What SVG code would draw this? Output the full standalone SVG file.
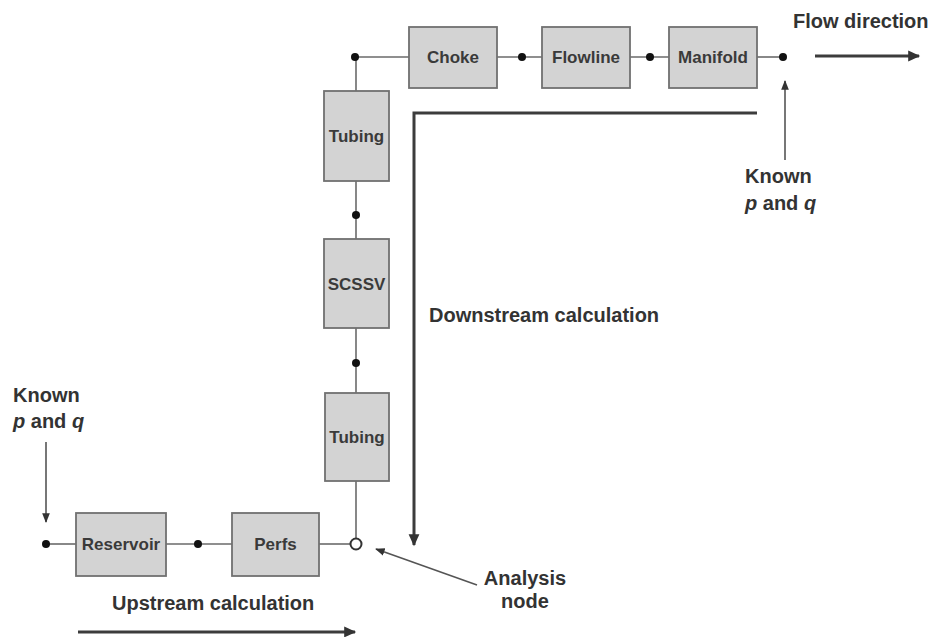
<svg xmlns="http://www.w3.org/2000/svg" width="933" height="637" viewBox="0 0 933 637">
  <defs>
    <style>
      .box { fill: #d3d3d3; stroke: #707070; stroke-width: 1.8; }
      .lbl { font-family: "Liberation Sans", Arial, sans-serif; font-weight: bold; font-size: 17px; fill: #3a3a3a; text-anchor: middle; }
      .txt { font-family: "Liberation Sans", Arial, sans-serif; font-weight: bold; font-size: 20px; fill: #333; }
      .wire { stroke: #6a6a6a; stroke-width: 1.6; fill: none; }
      .dot { fill: #111; }
      .thin { stroke: #555; stroke-width: 1.6; fill: none; }
      .thick { stroke: #3c3c3c; stroke-width: 3; fill: none; }
    </style>
    <marker id="headThin" viewBox="0 0 10 10" refX="9" refY="5" markerWidth="6" markerHeight="6" markerUnits="strokeWidth" orient="auto">
      <path d="M0,1 L10,5 L0,9 Z" fill="#333"/>
    </marker>
    <marker id="headThick" viewBox="0 0 10 10" refX="9" refY="5" markerWidth="4.5" markerHeight="4" markerUnits="strokeWidth" orient="auto">
      <path d="M0,0.5 L10,5 L0,9.5 Z" fill="#333"/>
    </marker>
  </defs>
  <rect width="933" height="637" fill="#fff"/>

  <!-- connectors -->
  <g id="connectors">
    <!-- top row -->
    <line class="wire" x1="355" y1="57" x2="409" y2="57"/>
    <line class="wire" x1="497" y1="57" x2="542" y2="57"/>
    <line class="wire" x1="630" y1="57" x2="669" y2="57"/>
    <line class="wire" x1="757" y1="57" x2="783" y2="57"/>
    <!-- vertical string -->
    <line class="wire" x1="356" y1="57" x2="356" y2="91"/>
    <line class="wire" x1="356" y1="181" x2="356" y2="239"/>
    <line class="wire" x1="356" y1="328" x2="356" y2="393"/>
    <line class="wire" x1="356" y1="481" x2="356" y2="538"/>
    <!-- bottom row -->
    <line class="wire" x1="46" y1="544" x2="76" y2="544"/>
    <line class="wire" x1="166" y1="544" x2="232" y2="544"/>
    <line class="wire" x1="319" y1="544" x2="350" y2="544"/>
    <!-- junction dots -->
    <circle class="dot" cx="355" cy="57" r="4"/>
    <circle class="dot" cx="522" cy="57" r="4"/>
    <circle class="dot" cx="650" cy="57" r="4"/>
    <circle class="dot" cx="783" cy="57" r="4"/>
    <circle class="dot" cx="356" cy="215" r="4"/>
    <circle class="dot" cx="356" cy="363" r="4"/>
    <circle class="dot" cx="46" cy="544" r="4"/>
    <circle class="dot" cx="198" cy="544" r="4"/>
    <!-- analysis node -->
    <circle cx="356" cy="544" r="5.5" fill="#fff" stroke="#333" stroke-width="2"/>

    <!-- calculation arrows -->
    <path class="thick" d="M757,113 H414 V545" marker-end="url(#headThick)"/>
    <line class="thick" x1="78" y1="632" x2="355" y2="632" marker-end="url(#headThick)"/>
    <line class="thick" x1="815" y1="56" x2="919" y2="56" stroke-width="2.6" marker-end="url(#headThick)"/>

    <!-- pointers -->
    <line class="thin" x1="46" y1="442" x2="46" y2="522" marker-end="url(#headThin)"/>
    <line class="thin" x1="785" y1="160" x2="785" y2="81" marker-end="url(#headThin)"/>
    <line class="thin" x1="477" y1="585" x2="376" y2="549" marker-end="url(#headThin)"/>
  </g>

  <!-- nodes -->
  <g id="choke"><rect class="box" x="409" y="27" width="88" height="61"/><text class="lbl" x="453" y="63">Choke</text></g>
  <g id="flowline"><rect class="box" x="542" y="27" width="88" height="61"/><text class="lbl" x="586" y="63">Flowline</text></g>
  <g id="manifold"><rect class="box" x="669" y="27" width="88" height="61"/><text class="lbl" x="713" y="63">Manifold</text></g>
  <g id="tubing-upper"><rect class="box" x="324" y="91" width="65" height="90"/><text class="lbl" x="356.5" y="142">Tubing</text></g>
  <g id="scsv"><rect class="box" x="324" y="239" width="65" height="89"/><text class="lbl" x="356.5" y="290">SCSSV</text></g>
  <g id="tubing-lower"><rect class="box" x="325" y="393" width="64" height="88"/><text class="lbl" x="357" y="443">Tubing</text></g>
  <g id="reservoir"><rect class="box" x="76" y="513" width="90" height="63"/><text class="lbl" x="121" y="550">Reservoir</text></g>
  <g id="perfs"><rect class="box" x="232" y="513" width="87" height="63"/><text class="lbl" x="275.5" y="550">Perfs</text></g>

  <!-- annotations -->
  <g id="labels">
    <text class="txt" x="793" y="28">Flow direction</text>
    <text class="txt" x="745" y="183">Known</text>
    <text class="txt" x="745" y="210"><tspan font-style="italic">p</tspan> and <tspan font-style="italic">q</tspan></text>
    <text class="txt" x="13" y="402">Known</text>
    <text class="txt" x="13" y="428"><tspan font-style="italic">p</tspan> and <tspan font-style="italic">q</tspan></text>
    <text class="txt" x="429" y="322">Downstream calculation</text>
    <text class="txt" x="112" y="610">Upstream calculation</text>
    <text class="txt" x="525" y="585" text-anchor="middle">Analysis</text>
    <text class="txt" x="525" y="608" text-anchor="middle">node</text>
  </g>
</svg>
